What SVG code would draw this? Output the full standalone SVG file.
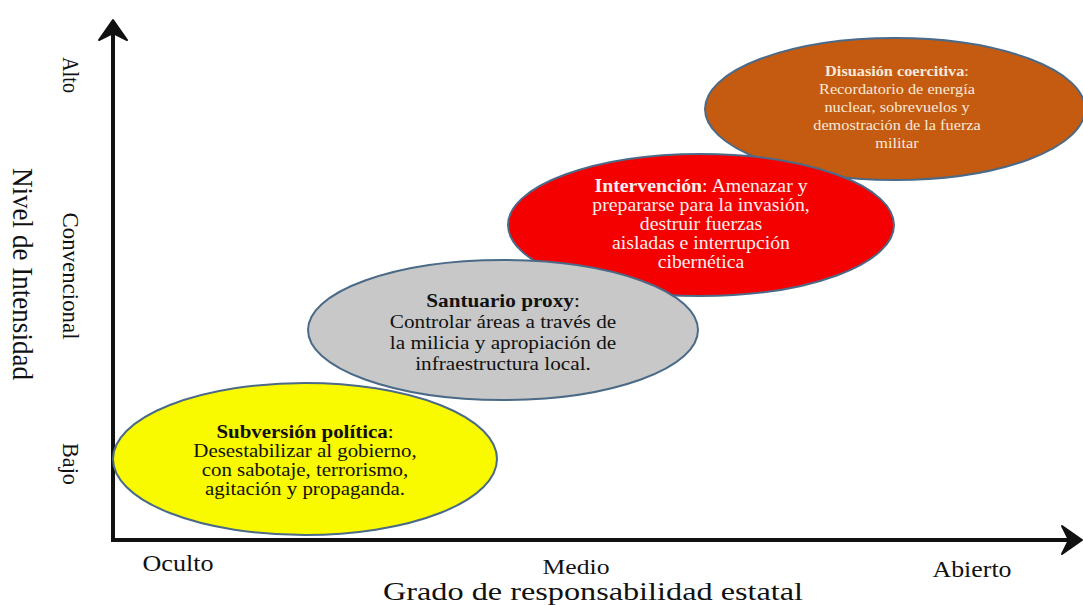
<svg xmlns="http://www.w3.org/2000/svg" width="1083" height="605" viewBox="0 0 1083 605">
<defs>
<style>
.ell{stroke:#4b6a88;stroke-width:2}
.t{font-family:"Liberation Serif","Times New Roman",serif;text-anchor:middle}
.dk{fill:#111}
.lt{fill:#fbeeee}
.cr{fill:#f8ead8}
.b{font-weight:bold}
.ax{font-family:"Liberation Serif","Times New Roman",serif;fill:#111;text-anchor:middle}
</style>
</defs>
<rect width="1083" height="605" fill="#ffffff"/>
<g id="axes">
<polyline points="113,32 113,540 1070,540" fill="none" stroke="#111" stroke-width="4"/>
<path d="M113,20 L99,40 L113,33 L127,40 Z" fill="#111" stroke="#111" stroke-width="2" stroke-linejoin="round"/>
<path d="M1082,540 L1062,526 L1069,540 L1062,554 Z" fill="#111" stroke="#111" stroke-width="2" stroke-linejoin="round"/>
</g>
<g id="node-orange">
<ellipse class="ell" cx="895" cy="109" rx="190" ry="71" fill="#c55a11"/>
<text class="t cr" font-size="15.5" transform="translate(897,0) scale(1.05,1)"><tspan x="0" y="76.5"><tspan class="b">Disuasión coercitiva</tspan>:</tspan><tspan x="0" y="94.5">Recordatorio de energía</tspan><tspan x="0" y="112.5">nuclear, sobrevuelos y</tspan><tspan x="0" y="130.5">demostración de la fuerza</tspan><tspan x="0" y="148.5">militar</tspan></text>
</g>
<g id="node-red">
<ellipse class="ell" cx="701" cy="225" rx="193" ry="71" fill="#f40000"/>
<text class="t lt" font-size="18.5" transform="translate(701,0) scale(1.07,1)"><tspan x="0" y="192"><tspan class="b">Intervención</tspan>: Amenazar y</tspan><tspan x="0" y="211">prepararse para la invasión,</tspan><tspan x="0" y="230">destruir fuerzas</tspan><tspan x="0" y="249">aisladas e interrupción</tspan><tspan x="0" y="268">cibernética</tspan></text>
</g>
<g id="node-gray">
<ellipse class="ell" cx="503" cy="330" rx="195" ry="70" fill="#c8c8c8"/>
<text class="t dk" font-size="19.5" transform="translate(503,0) scale(1.09,1)"><tspan x="0" y="307"><tspan class="b">Santuario proxy</tspan>:</tspan><tspan x="0" y="328">Controlar áreas a través de</tspan><tspan x="0" y="349">la milicia y apropiación de</tspan><tspan x="0" y="370">infraestructura local.</tspan></text>
</g>
<g id="node-yellow">
<ellipse class="ell" cx="305" cy="459" rx="192" ry="76" fill="#f9f900"/>
<text class="t dk" font-size="19" transform="translate(305,0) scale(1.1,1)"><tspan x="0" y="438"><tspan class="b">Subversión política</tspan>:</tspan><tspan x="0" y="457">Desestabilizar al gobierno,</tspan><tspan x="0" y="476">con sabotaje, terrorismo,</tspan><tspan x="0" y="495">agitación y propaganda.</tspan></text>
</g>
<g id="labels">
<text class="ax" font-size="23" transform="translate(63,75) rotate(90)" textLength="36" lengthAdjust="spacingAndGlyphs">Alto</text>
<text class="ax" font-size="23" transform="translate(63,276) rotate(90)" textLength="127" lengthAdjust="spacingAndGlyphs">Convencional</text>
<text class="ax" font-size="23" transform="translate(63,464) rotate(90)" textLength="42" lengthAdjust="spacingAndGlyphs">Bajo</text>
<text class="ax" font-size="30" transform="translate(13,274) rotate(90)" textLength="212" lengthAdjust="spacingAndGlyphs">Nivel de Intensidad</text>
<text class="ax" font-size="23" x="178" y="571" textLength="71" lengthAdjust="spacingAndGlyphs">Oculto</text>
<text class="ax" font-size="22" x="576" y="574" textLength="67" lengthAdjust="spacingAndGlyphs">Medio</text>
<text class="ax" font-size="23" x="972" y="577" textLength="79" lengthAdjust="spacingAndGlyphs">Abierto</text>
<text class="ax" font-size="26" x="593" y="600" textLength="420" lengthAdjust="spacingAndGlyphs">Grado de responsabilidad estatal</text>
</g>
</svg>
